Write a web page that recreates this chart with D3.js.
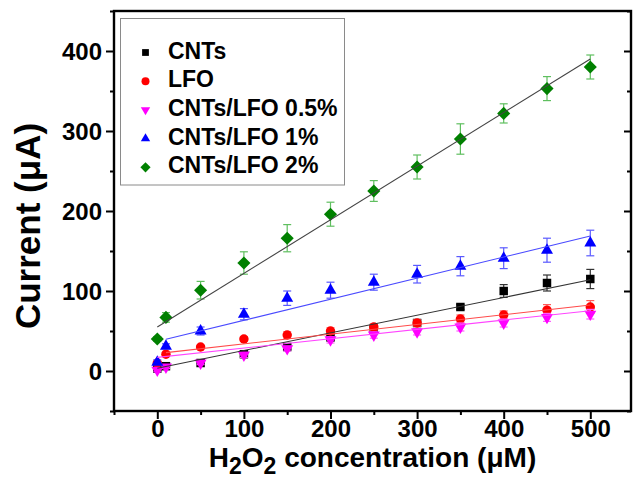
<!DOCTYPE html>
<html><head><meta charset="utf-8">
<script src="https://cdn.jsdelivr.net/npm/d3@7"></script>
<style>
body{margin:0;background:#fff}
svg{display:block}
text{font-family:"Liberation Sans",Arial,Helvetica,sans-serif;font-weight:bold;fill:#000}
</style>
</head><body>
<svg id="chart" width="633" height="479"></svg>
<script>
// ---------------- data ----------------
const concentrations = [0, 10, 50, 100, 150, 200, 250, 300, 350, 400, 450, 500];
const seriesNames = ["CNTs", "LFO", "CNTs/LFO 0.5%", "CNTs/LFO 1%", "CNTs/LFO 2%"];
const cntsValues   = [3, 6, 10, 21, 30, 42, 53, 60, 80, 100, 110, 115];
const cntsErrors   = [2, 2, 2, 3, 3, 3, 3, 4, 3, 8, 10, 12];
const lfoValues    = [10, 21, 30, 40, 45, 50, 55, 60, 65, 70, 76, 80];
const lfoErrors    = [2, 2, 2, 3, 4, 4, 4, 4, 5, 5, 7, 8];
const lfo05Values  = [1, 5, 10, 20, 28, 39, 45, 49, 55, 60, 67, 71];
const lfo05Errors  = [2, 2, 2, 3, 3, 4, 4, 4, 5, 5, 5, 6];
const lfo1Values   = [11, 31, 50, 71, 91, 101, 111, 121, 131, 141, 151, 160];
const lfo1Errors   = [3, 3, 5, 7, 9, 10, 10, 11, 12, 13, 15, 16];
const lfo2Values   = [40, 67, 101, 135, 166, 196, 225, 255, 290, 322, 353, 380];
const lfo2Errors   = [3, 6, 11, 14, 17, 15, 13, 15, 19, 12, 15, 15];
// linear fit lines: start x / value, end x / value
const fitStartX = [0, 10, 0, 10, 0];
const fitStartY = [3.5, 23, 17, 39.6, 55];
const fitEndX   = [500, 500, 500, 500, 500];
const fitEndY   = [114, 82.5, 75.4, 168.8, 390];
const xTicks = [0, 100, 200, 300, 400, 500];
const xMinorTicks = [-50, 50, 150, 250, 350, 450];
const yTicks = [0, 100, 200, 300, 400];
const yMinorTicks = [-50, 50, 150, 250, 350, 450];

const values = [cntsValues, lfoValues, lfo05Values, lfo1Values, lfo2Values];
const errors = [cntsErrors, lfoErrors, lfo05Errors, lfo1Errors, lfo2Errors];

// ---------------- styles ----------------
const markerColor = ["#000000", "#ff0000", "#ff00ff", "#0000ff", "#008000"];
const errColor    = ["#333333", "#ff5a5a", "#ff5cff", "#5a5aff", "#5fbf5f"];
const fitColor    = ["#333333", "#ff4a4a", "#ff44ff", "#4a4aff", "#444444"];
const symType  = [d3.symbolSquare, d3.symbolCircle, d3.symbolTriangle, d3.symbolTriangle, d3.symbolSquare];
const symRot   = [0, 0, 180, 0, 45];
const symSize  = [72, 70, 62, 62, 86];
const legSize  = [46, 50, 38, 38, 52];

const svg = d3.select("#chart");
const pLeft = 114, pRight = 631, pTop = 11, pBottom = 411;
const x = d3.scaleLinear().domain([-50, 547]).range([pLeft, pRight]);
const y = d3.scaleLinear().domain([-50, 450]).range([pBottom, pTop]);

const plot = svg.append("g");

// markers + error bars
values.forEach((vals, s) => {
  const g = plot.append("g");
  const data = concentrations.map((c, i) => ({c, v: vals[i], e: errors[s][i]}));
  const eb = g.selectAll("g.eb").data(data).enter().append("g")
    .attr("stroke", errColor[s]).attr("stroke-width", 1.2);
  eb.append("line").attr("x1", d => x(d.c)).attr("x2", d => x(d.c))
    .attr("y1", d => y(d.v + d.e)).attr("y2", d => y(d.v - d.e));
  eb.append("line").attr("x1", d => x(d.c) - 4).attr("x2", d => x(d.c) + 4)
    .attr("y1", d => y(d.v + d.e)).attr("y2", d => y(d.v + d.e));
  eb.append("line").attr("x1", d => x(d.c) - 4).attr("x2", d => x(d.c) + 4)
    .attr("y1", d => y(d.v - d.e)).attr("y2", d => y(d.v - d.e));
  const sym = d3.symbol().type(symType[s]).size(symSize[s]);
  g.selectAll("path.m").data(data).enter().append("path")
    .attr("d", sym)
    .attr("transform", d => `translate(${x(d.c)},${y(d.v)}) rotate(${symRot[s]})`)
    .attr("fill", markerColor[s]);
});

// fit lines
seriesNames.forEach((n, s) => {
  plot.append("line")
    .attr("x1", x(fitStartX[s])).attr("y1", y(fitStartY[s]))
    .attr("x2", x(fitEndX[s])).attr("y2", y(fitEndY[s]))
    .attr("stroke", fitColor[s]).attr("stroke-width", 1.1);
});

// axes
const axG = svg.append("g");
const bAx = axG.append("g").attr("transform", `translate(0,${pBottom})`)
  .call(d3.axisBottom(x).tickValues(xTicks).tickSize(8).tickPadding(4).tickFormat(d3.format("d")));
bAx.selectAll(".tick text").attr("font-size", 24).attr("font-family", null).attr("dy", null).attr("y", 26);
axG.append("g").attr("transform", `translate(0,${pBottom})`)
  .call(d3.axisBottom(x).tickValues(xMinorTicks).tickSize(4).tickFormat(""));

const lAx = axG.append("g").attr("transform", `translate(${pLeft},0)`)
  .call(d3.axisLeft(y).tickValues(yTicks).tickSize(8).tickPadding(4).tickFormat(d3.format("d")));
lAx.selectAll(".tick text").attr("font-size", 24).attr("font-family", null).attr("dy", "0.35em");
axG.append("g").attr("transform", `translate(${pLeft},0)`)
  .call(d3.axisLeft(y).tickValues(yMinorTicks).tickSize(4).tickFormat(""));

// right axis (inward ticks)
axG.append("g").attr("transform", `translate(${pRight},0)`)
  .call(d3.axisRight(y).tickValues(yTicks).tickSize(-7).tickFormat(""));
axG.append("g").attr("transform", `translate(${pRight},0)`)
  .call(d3.axisRight(y).tickValues(yMinorTicks).tickSize(-4).tickFormat(""));

axG.selectAll(".domain").remove();
axG.selectAll(".tick line").attr("stroke", "#000").attr("stroke-width", 2);

// frame
svg.append("rect").attr("x", pLeft).attr("y", pTop)
  .attr("width", pRight - pLeft).attr("height", pBottom - pTop)
  .attr("fill", "none").attr("stroke", "#000").attr("stroke-width", 2.4);

// axis titles
const xt = svg.append("text").attr("x", (pLeft + pRight) / 2).attr("y", 467)
  .attr("text-anchor", "middle").attr("font-size", 28);
xt.append("tspan").text("H");
xt.append("tspan").text("2").attr("font-size", 23).attr("dy", 7);
xt.append("tspan").text("O").attr("dy", -7);
xt.append("tspan").text("2").attr("font-size", 23).attr("dy", 7);
xt.append("tspan").text(" concentration (μM)").attr("dy", -7);

svg.append("text").attr("transform", "translate(40,226) rotate(-90)")
  .attr("text-anchor", "middle").attr("font-size", 35).text("Current (μA)");

// legend
const leg = svg.append("g");
leg.append("rect").attr("x", 120.5).attr("y", 18.5).attr("width", 224).attr("height", 166.5)
  .attr("fill", "#fff").attr("stroke", "#8a8a8a").attr("stroke-width", 1);
seriesNames.forEach((n, s) => {
  const base = 58.5 + s * 28.7;
  leg.append("path").attr("d", d3.symbol().type(symType[s]).size(legSize[s]))
    .attr("transform", `translate(145.5,${base - 6}) rotate(${symRot[s]})`)
    .attr("fill", markerColor[s]);
  leg.append("text").attr("x", 168).attr("y", base).attr("font-size", 23).text(n);
});
</script>
</body></html>
